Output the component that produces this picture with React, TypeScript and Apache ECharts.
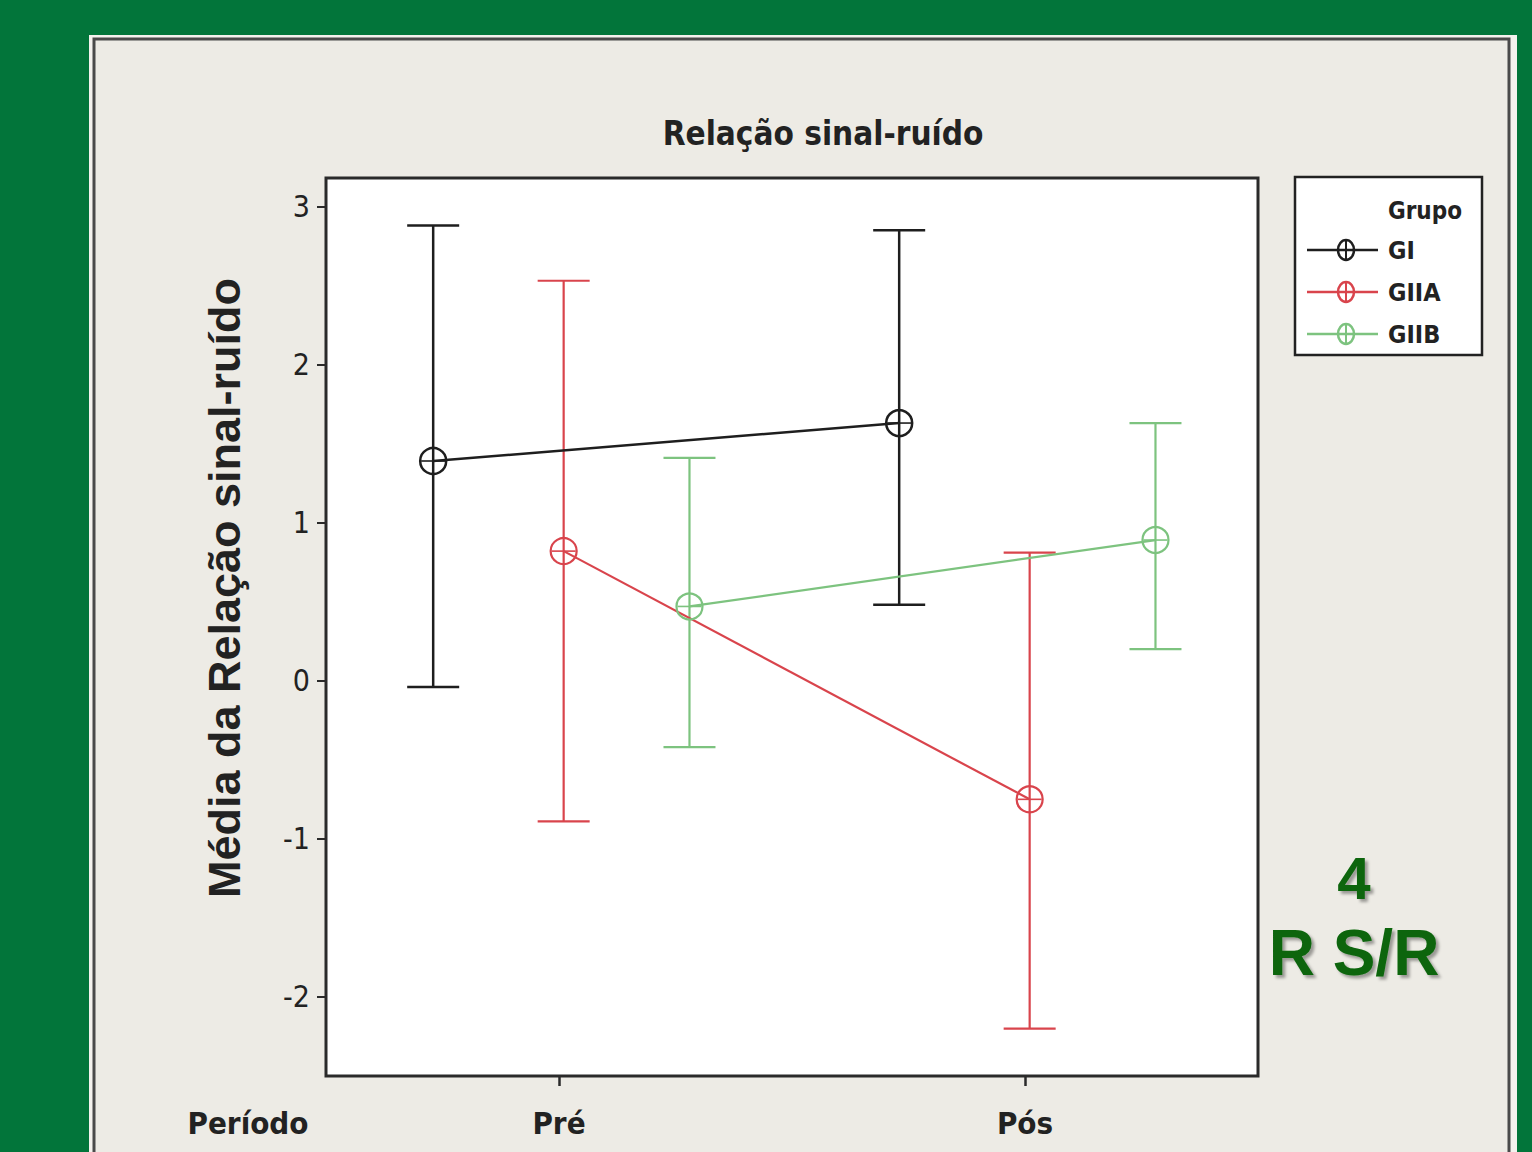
import React, { useEffect, useRef } from "react";
import * as echarts from "echarts";

const periods = ["Pré", "Pós"];
const groups = ["GI", "GIIA", "GIIB"];
const groupColors = ["#1E1E1E", "#D9444C", "#7DC37F"];
const meanValues = [
  [1.39, 1.63],
  [0.82, -0.75],
  [0.47, 0.89],
];
const upperValues = [
  [2.88, 2.85],
  [2.53, 0.81],
  [1.41, 1.63],
];
const lowerValues = [
  [-0.04, 0.48],
  [-0.89, -2.2],
  [-0.42, 0.2],
];
const yTicks = [-2, -1, 0, 1, 2, 3];
const groupOffsets = [-0.27, 0.01, 0.28];

const NARROW = "'Liberation Sans Narrow', 'DejaVu Sans Condensed', 'Liberation Sans', sans-serif";
const SANS = "'Liberation Sans', Arial, sans-serif";

export default function App() {
  const ref = useRef<HTMLDivElement>(null);
  useEffect(() => {
    if (!ref.current) return;
    const chart = echarts.init(ref.current, undefined, { renderer: "svg" });
    const series: any[] = [];
    groups.forEach((g, gi) => {
      const color = groupColors[gi];
      const lw = gi === 0 ? 2.5 : 2.2;
      series.push({
        type: "line",
        name: g,
        data: periods.map((_, pi) => [pi + 1 + groupOffsets[gi], meanValues[gi][pi]]),
        symbol: "circle",
        symbolSize: 26,
        itemStyle: { color: "rgba(255,255,255,0)", borderColor: color, borderWidth: lw },
        lineStyle: { color, width: lw },
        z: 3,
      });
      series.push({
        type: "custom",
        name: g + "-err",
        data: periods.map((_, pi) => [
          pi + 1 + groupOffsets[gi],
          lowerValues[gi][pi],
          upperValues[gi][pi],
          meanValues[gi][pi],
        ]),
        encode: { x: 0, y: [1, 2] },
        z: 3,
        renderItem: (params: any, api: any) => {
          const x = api.value(0);
          const lo = api.coord([x, api.value(1)]);
          const hi = api.coord([x, api.value(2)]);
          const mid = api.coord([x, api.value(3)]);
          const hw = 26;
          const st = { stroke: color, lineWidth: lw };
          return {
            type: "group",
            children: [
              { type: "line", shape: { x1: lo[0], y1: lo[1], x2: hi[0], y2: hi[1] }, style: st },
              { type: "line", shape: { x1: lo[0] - hw, y1: lo[1], x2: lo[0] + hw, y2: lo[1] }, style: st },
              { type: "line", shape: { x1: hi[0] - hw, y1: hi[1], x2: hi[0] + hw, y2: hi[1] }, style: st },
              { type: "line", shape: { x1: mid[0] - 12, y1: mid[1], x2: mid[0] + 12, y2: mid[1] }, style: { stroke: color, lineWidth: 1.6 } },
            ],
          };
        },
      });
    });

    const legendChildren: any[] = [
      {
        type: "rect",
        shape: { x: 1295, y: 177, width: 187, height: 178 },
        style: { fill: "#ffffff", stroke: "#222", lineWidth: 2.5 },
      },
      {
        type: "text",
        x: 1388,
        y: 211,
        style: { text: "Grupo", font: `bold 24px ${NARROW}`, fill: "#222", verticalAlign: "middle" },
      },
    ];
    const legendY = [250, 292, 334];
    groups.forEach((g, gi) => {
      const c = groupColors[gi];
      legendChildren.push(
        { type: "line", shape: { x1: 1307, y1: legendY[gi], x2: 1378, y2: legendY[gi] }, style: { stroke: c, lineWidth: 2.5 } },
        { type: "ellipse", shape: { cx: 1346, cy: legendY[gi], rx: 8, ry: 10 }, style: { fill: "rgba(255,255,255,0)", stroke: c, lineWidth: 2.5 } },
        { type: "line", shape: { x1: 1346, y1: legendY[gi] - 10, x2: 1346, y2: legendY[gi] + 10 }, style: { stroke: c, lineWidth: 2 } },
        {
          type: "text",
          x: 1388,
          y: legendY[gi],
          style: { text: g, font: `bold 25px ${NARROW}`, fill: "#222", verticalAlign: "middle" },
        }
      );
    });

    chart.setOption({
      animation: false,
      backgroundColor: "#02753A",
      grid: {
        left: 326,
        right: 274,
        top: 178,
        bottom: 76,
        show: true,
        backgroundColor: "#ffffff",
        borderColor: "#2a2a2a",
        borderWidth: 3,
      },
      xAxis: {
        type: "value",
        min: 0.5,
        max: 2.5,
        splitLine: { show: false },
        axisLine: { show: false, onZero: false },
        axisTick: { show: true, customValues: [1, 2], length: 10, lineStyle: { color: "#2a2a2a", width: 2.5 } },
        axisLabel: {
          customValues: [1, 2],
          formatter: (v: number) => periods[Math.round(v) - 1] ?? "",
          fontFamily: NARROW,
          fontWeight: "bold",
          fontSize: 31,
          color: "#222",
          margin: 31,
        },
      },
      yAxis: {
        type: "value",
        min: -2.5,
        max: 3.18,
        splitLine: { show: false },
        axisLine: { show: false, onZero: false },
        axisTick: { show: true, customValues: yTicks, length: 9, lineStyle: { color: "#2a2a2a", width: 2 } },
        axisLabel: {
          customValues: yTicks,
          fontFamily: NARROW,
          fontSize: 30,
          color: "#222",
          margin: 16,
        },
      },
      graphic: [
        {
          type: "rect",
          z: -20,
          shape: { x: 89, y: 35, width: 1428, height: 1140 },
          style: { fill: "#F4F2EE" },
        },
        {
          type: "rect",
          z: -19,
          shape: { x: 94, y: 39, width: 1415, height: 1140 },
          style: { fill: "#EDEBE5", stroke: "#4a4a4a", lineWidth: 3 },
        },
        {
          type: "text",
          x: 823,
          y: 133,
          style: {
            text: "Relação sinal-ruído",
            font: `bold 33px ${NARROW}`,
            fill: "#222",
            align: "center",
            verticalAlign: "middle",
          },
        },
        {
          type: "text",
          x: 224,
          y: 588,
          rotation: Math.PI / 2,
          style: {
            text: "Média da Relação sinal-ruído",
            font: `bold 45px ${SANS}`,
            fill: "#222",
            align: "center",
            verticalAlign: "middle",
          },
        },
        {
          type: "text",
          x: 248,
          y: 1123,
          style: {
            text: "Período",
            font: `bold 31px ${NARROW}`,
            fill: "#222",
            align: "center",
            verticalAlign: "middle",
          },
        },
        {
          type: "group",
          children: legendChildren,
        },
        {
          type: "text",
          x: 1354,
          y: 878,
          style: {
            text: "4",
            font: `bold 60px ${SANS}`,
            fill: "#0B650B",
            align: "center",
            verticalAlign: "middle",
            textShadowColor: "rgba(0,0,0,0.35)",
            textShadowBlur: 3,
            textShadowOffsetX: 3,
            textShadowOffsetY: 3,
          },
        },
        {
          type: "text",
          x: 1354,
          y: 953,
          style: {
            text: "R S/R",
            font: `bold 64px ${SANS}`,
            fill: "#0B650B",
            align: "center",
            verticalAlign: "middle",
            textShadowColor: "rgba(0,0,0,0.35)",
            textShadowBlur: 3,
            textShadowOffsetX: 3,
            textShadowOffsetY: 3,
          },
        },
      ],
      series,
    });
    return () => chart.dispose();
  }, []);
  return (
    <div
      ref={ref}
      style={{ position: "absolute", left: 0, top: 0, width: 1532, height: 1152 }}
    />
  );
}
